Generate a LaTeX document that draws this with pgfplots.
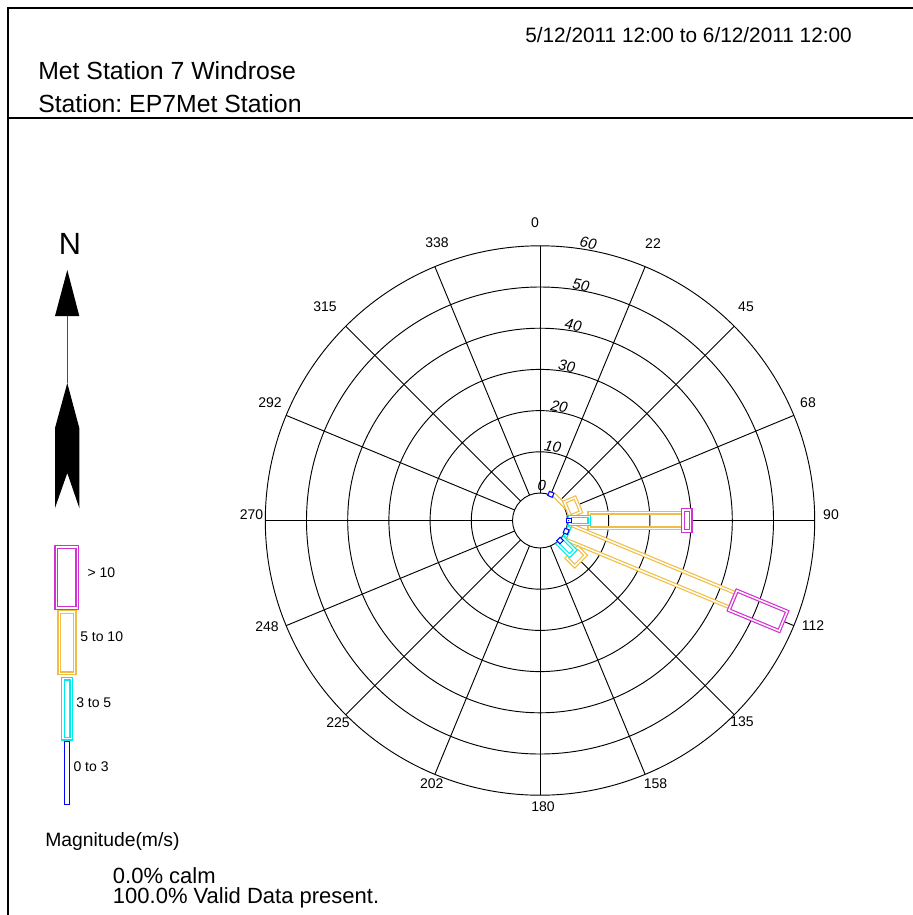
\documentclass[border=0pt]{standalone}
\usepackage{pgfplots}
\pgfplotsset{compat=1.18}
\usepackage{fontspec}
\setmainfont{Liberation Sans}
\frenchspacing
\definecolor{wmag}{RGB}{210,50,210}
\definecolor{wyel}{RGB}{240,190,70}
\definecolor{wcya}{RGB}{0,235,235}
\definecolor{wblu}{RGB}{0,0,255}
\def\Roff{6.675}
\tikzset{wbl/.style={draw=#1, double=white, double distance=1.1pt, line width=0.9pt, line join=miter}}
\pgfplotsset{wb/.style={draw=#1, double=white, double distance=1.1pt, line width=0.9pt, no marks, line join=miter, fill=none}}
% direction, from (%), to (%), half width, style
\newcommand\wbar[5]{%
 \addplot[#5] table[row sep=\\,
   x expr={(\thisrow{r}+\Roff)*sin(#1)+\thisrow{o}*cos(#1)},
   y expr={(\thisrow{r}+\Roff)*cos(#1)-\thisrow{o}*sin(#1)}]
 {o r\\ -#4 #2\\ #4 #2\\ #4 #3\\ -#4 #3\\ -#4 #2\\ #4 #2\\};}
\begin{document}
\begin{tikzpicture}[x=0.75pt,y=0.75pt]
\useasboundingbox (0,0) rectangle (913,-915);
% frame
\draw[line width=0.9pt] (8,-915) -- (8,-8) -- (913,-8);
\draw[line width=0.9pt] (8,-118) -- (913,-118);
% header
\node[anchor=base west, font=\fontsize{15.6}{18}\selectfont, inner sep=0] at (525,-42.5) {5/12/2011 12:00 to 6/12/2011 12:00};
\node[anchor=base west, font=\fontsize{18.6}{22}\selectfont, inner sep=0] at (38,-79) {Met Station 7 Windrose};
\node[anchor=base west, font=\fontsize{18.6}{22}\selectfont, inner sep=0] at (38,-112) {Station: EP7Met Station};
% grid
\begin{scope}[shift={(540,-520.5)}, line width=0.7pt]
\foreach \r in {27.5,68.7,109.9,151.1,192.3,233.5,274.7} \draw (0,0) circle[radius=\r];
\foreach \d/\s in {0/27.5, 22.5/31, 45/31, 67.5/43, 90/152.5, 112.5/265, 135/58.5, 157.5/27.5, 180/27.5, 202.5/27.5, 225/27.5, 247.5/27.5, 270/27.5, 292.5/27.5, 315/27.5, 337.5/27.5}
  \draw ({90-\d}:\s) -- ({90-\d}:274.7);
\end{scope}
% direction labels
\begin{scope}[every node/.style={font=\fontsize{10.5}{12}\selectfont, inner sep=0}]
\node at (535,-223) {0};
\node at (653,-244) {22};
\node at (746,-307) {45};
\node at (808,-403) {68};
\node at (831,-515) {90};
\node at (813,-626) {112};
\node at (742,-722) {135};
\node at (655.5,-784) {158};
\node at (543,-807) {180};
\node at (431.7,-784) {202};
\node at (338,-723) {225};
\node at (267,-627) {248};
\node at (251.5,-515) {270};
\node at (270,-403) {292};
\node at (325,-307) {315};
\node at (437,-243) {338};
\end{scope}
% ring labels
\begin{scope}[every node/.style={font=\fontsize{11.25}{13}\selectfont\itshape, inner sep=0, rotate=-10}]
\node[rotate=7] at (541.7,-486) {0};
\node at (552.7,-446.7) {10};
\node at (559.3,-406.7) {20};
\node at (566.7,-366) {30};
\node at (573.3,-325) {40};
\node at (581,-285) {50};
\node at (588.3,-243.3) {60};
\end{scope}
% north arrow
\node[font=\fontsize{23}{26}\selectfont, inner sep=0] at (70,-244) {N};
\fill (67.3,-270) -- (79.3,-316) -- (55,-316) -- cycle;
\draw[line width=0.5pt, black!70] (67.3,-316) -- (67.3,-383);
\fill (67.3,-383) -- (79.3,-428) -- (79.3,-508) -- (67.3,-473) -- (55,-508) -- (55,-428) -- cycle;
% legend
\draw[wbl=wmag] (56.3,-547) rectangle (77.3,-608);
\draw[wbl=wyel] (59.3,-612) rectangle (74.7,-673.3);
\draw[wbl=wcya] (63,-678.7) rectangle (71.3,-738.7);
\draw[wbl=wblu] (66.1,-743) rectangle (68.2,-803);
\begin{scope}[every node/.style={font=\fontsize{10.5}{12}\selectfont, inner sep=0, anchor=west}]
\node at (87.3,-572.7) {> 10};
\node at (80,-637) {5 to 10};
\node at (76,-703) {3 to 5};
\node at (73.3,-767) {0 to 3};
\end{scope}
\node[anchor=west, inner sep=0, font=\fontsize{14.5}{17}\selectfont] at (45,-841.7) {Magnitude(m/s)};
\node[anchor=west, inner sep=0, font=\fontsize{16.5}{19}\selectfont] at (112.7,-876) {0.0\% calm};
\node[anchor=west, inner sep=0, font=\fontsize{16.5}{19}\selectfont] at (112.7,-898) {100.0\% Valid Data present.};
% wind rose bars
\begin{axis}[at={(405pt,-390.375pt)}, anchor=center, x=3.09pt, y=3.09pt,
  xmin=-70, xmax=70, ymin=-70, ymax=70, hide axis, clip=false]
% 5 to 10
\wbar{45}{0}{0.2}{1.88}{wb=wyel}
\wbar{67.5}{0.5}{3.3}{1.88}{wb=wyel}
\wbar{90}{5.3}{28.0}{1.88}{wb=wyel}
\wbar{112.5}{0.6}{44.0}{1.88}{wb=wyel}
\wbar{135}{4.4}{7.1}{1.88}{wb=wyel}
% > 10
\wbar{90}{28.0}{29.9}{2.56}{wb=wmag}
\wbar{112.5}{44.0}{57.2}{2.56}{wb=wmag}
% 3 to 5
\wbar{90}{0.6}{5.3}{0.98}{wb=wcya}
\wbar{112.5}{0.4}{0.6}{0.98}{wb=wcya}
\wbar{135}{0.4}{4.4}{0.98}{wb=wcya}
% 0 to 3
\wbar{22.5}{0}{0.4}{0.25}{wb=wblu}
\wbar{90}{0}{0.6}{0.25}{wb=wblu}
\wbar{112.5}{0}{0.4}{0.25}{wb=wblu}
\wbar{135}{0}{0.4}{0.25}{wb=wblu}
\end{axis}
\end{tikzpicture}
\end{document}
